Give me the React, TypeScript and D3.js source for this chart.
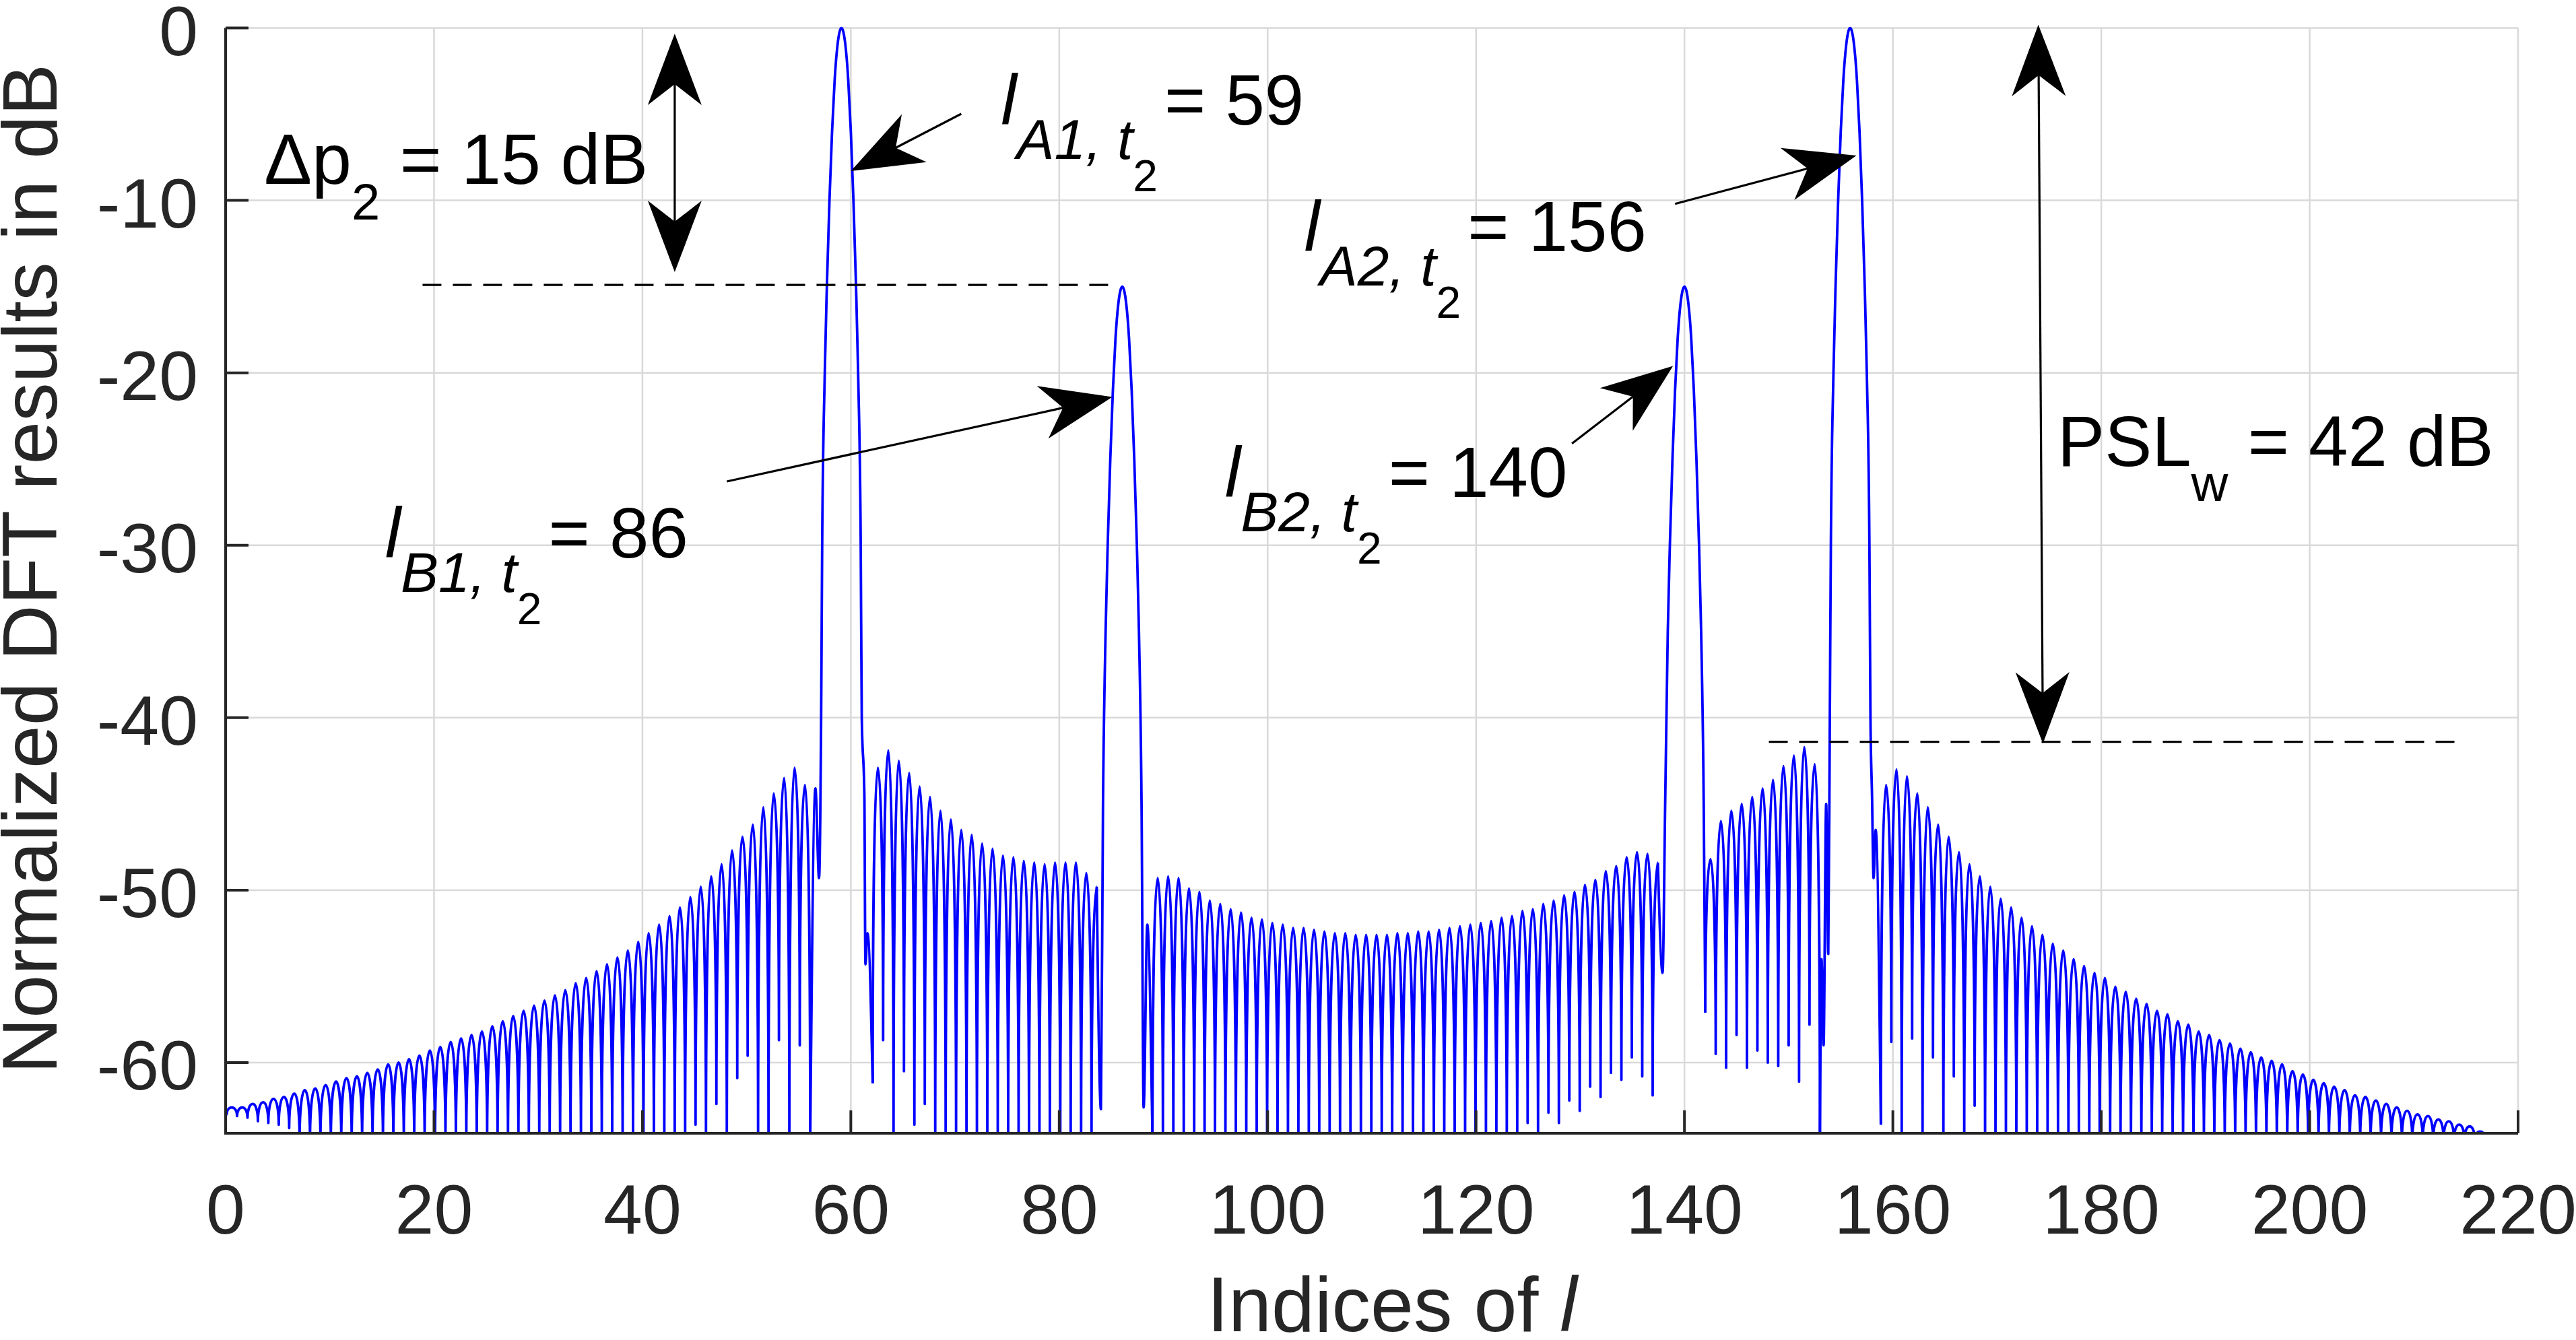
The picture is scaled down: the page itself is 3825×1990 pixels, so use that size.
import { useEffect, useRef } from "react"
import * as d3 from "d3"

// ---------- values ----------
const xTicks = [0, 20, 40, 60, 80, 100, 120, 140, 160, 180, 200, 220]
const yTicks = [0, -10, -20, -30, -40, -50, -60]

// main lobes (index of peak, level in dB)
const mainLobeIdx = [59.1, 86.05, 140.0, 155.9]
const mainLobeDb = [0, -15, -15, 0]
// main lobe shape: distance from the peak and level below the peak
const lobeOffsets = [1.95, 1.85, 1.6, 1.4, 1.15, 0.9, 0.65, 0.38]
const lobeDrops = [-40, -30, -20, -15, -10, -6, -3, -1]

// side lobe runs: nulls at start + k, peaks at start + k + 0.5
const run1Nulls = [
  -63.0, -63.1, -63.2, -63.4, -63.5, -63.6, -63.8,
  -80, -80, -80, -80, -80, -80, -80, -80, -80, -80, -80, -80, -80, -80, -80, -80, -80, -80, -80,
  -80, -80, -80, -80, -80, -80, -80, -80, -80, -80, -80, -80, -80, -80, -80, -80, -80, -80, -80,
  -63.6, -80, -62.4, -80, -60.9, -59.6, -80, -80, -58.7, -80, -59.0, -80,
]
const run1Peaks = [
  -62.6, -62.6, -62.4, -62.3, -62.1, -62.0, -61.8, -61.6, -61.5, -61.3,
  -61.1, -60.9, -60.8, -60.6, -60.4, -60.1, -60.0, -59.8, -59.6, -59.3,
  -59.1, -58.8, -58.6, -58.4, -58.2, -57.9, -57.6, -57.3, -57.0, -56.7,
  -56.4, -56.1, -55.8, -55.4, -55.1, -54.7, -54.3, -53.9, -53.5, -53.0,
  -52.5, -52.0, -51.5, -51.0, -50.4, -49.8, -49.2, -48.5, -47.7, -46.9,
  -46.2, -45.2, -44.4, -43.5, -42.9, -43.9,
]
const run2Nulls = [
  -61.2, -58.7, -80, -60.5, -63.6, -62.4,
  -80, -80, -80, -80, -80, -80, -80, -80, -80, -80, -80, -80, -80, -80, -80, -80,
]
const run2Peaks = [
  -42.9, -41.9, -42.5, -43.2, -44.0, -44.6, -45.4, -45.9, -46.5, -46.8, -47.3,
  -47.6, -48.0, -48.1, -48.3, -48.4, -48.5, -48.4, -48.4, -48.4, -49.0, -49.8,
]
const run3Nulls = [
  -80, -80, -80, -80, -80, -80, -80, -80, -80, -80, -80, -80, -80, -80, -80, -80, -80, -80,
  -80, -80, -80, -80, -80, -80, -80, -80, -80, -80, -80, -80, -80, -80, -80, -80, -80, -80,
  -63.5, -80, -62.9, -63.5, -62.2, -62.8, -61.4, -62.0, -60.6, -61.0, -59.7, -60.8, -61.9,
]
const run3Peaks = [
  -49.3, -49.2, -49.3, -49.9, -50.1, -50.6, -50.8, -51.1, -51.3, -51.6, -51.7, -51.9, -52.0, -52.2, -52.2,
  -52.3, -52.4, -52.5, -52.5, -52.6, -52.6, -52.6, -52.6, -52.5, -52.5, -52.4, -52.4, -52.3, -52.2,
  -52.1, -52.0, -51.9, -51.8, -51.6, -51.5, -51.2, -51.1, -50.8, -50.6, -50.3, -50.1, -49.7, -49.4,
  -48.9, -48.6, -48.1, -47.8, -47.9, -48.4,
]
const run4Nulls = [-57.1, -59.5, -60.3, -58.4, -60.3, -59.3, -60.0, -60.2, -59.0, -61.1, -57.8, -80]
const run4Peaks = [-48.2, -46.0, -45.4, -45.0, -44.6, -44.1, -43.6, -42.8, -42.2, -41.7, -42.7]
const run5Nulls = [
  -63.6, -58.8, -80, -58.6, -80, -59.7, -80, -60.8, -80, -62.5,
  -80, -80, -80, -80, -80, -80, -80, -80, -80, -80, -80, -80, -80, -80, -80, -80, -80, -80,
  -80, -80, -80, -80, -80, -80, -80, -80, -80, -80, -80, -80, -80, -80, -80, -80, -80, -80,
  -80, -80, -80, -80, -80, -80, -80, -80, -80, -80, -80, -80, -80, -80, -80, -80,
]
const run5Peaks = [
  -43.9, -43.0, -43.4, -44.4, -45.2, -46.2, -46.9, -47.8, -48.5, -49.2,
  -49.8, -50.5, -51.0, -51.6, -52.1, -52.6, -53.1, -53.5, -54.0, -54.4,
  -54.8, -55.1, -55.6, -55.9, -56.3, -56.6, -57.0, -57.2, -57.6, -57.8,
  -58.2, -58.4, -58.7, -58.9, -59.2, -59.4, -59.7, -59.9, -60.1,
  -60.5, -60.7, -61.0, -61.2, -61.4, -61.6, -61.9, -62.0, -62.2, -62.4,
  -62.6, -62.8, -63.0, -63.1, -63.3, -63.4, -63.6, -63.7, -64.0,
  -64.3, -64.6, -64.9,
]

// irregular bits next to the main lobes: [index, dB]
const a1Left = [[56.6, -44.1], [56.95, -49.3]]
const a1Right = [[61.3, -44.5], [61.4, -54.3], [61.6, -52.5]]
const b1Left = [[84.0, -62.7]]
const b1Right = [[88.1, -62.6], [88.45, -52.0]]
const b2Left = [[137.9, -54.8]]
const b2Right: number[][] = []
const a2Left = [[153.15, -54.0], [153.35, -59.0], [153.6, -45.0], [153.8, -53.7]]
const a2Right = [[158.0, -44.5], [158.15, -49.3], [158.35, -46.5]]

// annotations, in data units
const dashB = { from: 18.9, to: 85.6, db: -14.9 }
const dashPsl = { from: 148.1, to: 214.8, db: -41.4 }
const arrowA1 = [[70.6, -4.98], [60.0, -8.3]]
const arrowB1 = [[48.1, -26.3], [85.1, -21.4]]
const arrowB2 = [[129.2, -24.1], [138.9, -19.6]]
const arrowA2 = [[139.1, -10.2], [156.5, -7.4]]
const deltaArrow = [[43.1, -0.33], [43.1, -14.16]]
const pslArrow = [[173.96, 0.19], [174.4, -41.5]]

const W = 3825
const H = 1990
const FONT = "'Liberation Sans', Arial, Helvetica, sans-serif"

function runPoints(start: number, nulls: number[], peaks: number[]) {
  const out: number[][] = []
  nulls.forEach((n, k) => {
    out.push([start + k, n])
    if (k < peaks.length) out.push([start + k + 0.5, peaks[k]])
  })
  return out
}

function lobePoints(k: number) {
  const c = mainLobeIdx[k]
  const p = mainLobeDb[k]
  const left: number[][] = []
  lobeOffsets.forEach((o, i) => {
    if (p + lobeDrops[i] >= -45.5) left.push([c - o, p + lobeDrops[i]])
  })
  const right = left.map(([xx, v]) => [2 * c - xx, v]).reverse()
  return [...left, [c, p], ...right]
}

const App = () => {
  const svgRef = useRef<SVGSVGElement>(null)

  useEffect(() => {
    if (!svgRef.current) return
    const svg = d3.select(svgRef.current)
    svg.selectAll("*").remove()

    const x = d3.scaleLinear().domain([0, 220]).range([335, 3739])
    const y = d3.scaleLinear().domain([-64.1, 0]).range([1683, 41.5])
    const floor = -64.5
    const px = (d: number[]) => [x(d[0]), y(Math.max(d[1], floor))]

    svg.append("rect").attr("width", W).attr("height", H).attr("fill", "#fff")

    // grid
    const grid = svg.append("g").attr("stroke", "#d9d9d9").attr("stroke-width", 2.5)
    grid.selectAll("line.v").data(xTicks).join("line").attr("class", "v")
      .attr("x1", (d) => x(d)).attr("x2", (d) => x(d)).attr("y1", y(0)).attr("y2", y(-64.1))
    grid.selectAll("line.h").data(yTicks).join("line").attr("class", "h")
      .attr("x1", x(0)).attr("x2", x(220)).attr("y1", (d) => y(d)).attr("y2", (d) => y(d))

    // curve
    svg.append("clipPath").attr("id", "plotclip").append("rect")
      .attr("x", x(0)).attr("y", y(0) - 2).attr("width", x(220) - x(0)).attr("height", y(-64.1) - y(0) + 2)
    const curve = svg.append("g").attr("clip-path", "url(#plotclip)")
      .attr("fill", "none").attr("stroke", "#0000ff").attr("stroke-width", 3.8).attr("stroke-linejoin", "round")

    const r1 = [[0, -62.9], ...runPoints(0.1, run1Nulls, run1Peaks)]
    const r2 = runPoints(62.1, run2Nulls, run2Peaks)
    const r3 = runPoints(88.95, run3Nulls, run3Peaks)
    const r4 = runPoints(142.0, run4Nulls, run4Peaks)
    const r5 = runPoints(158.85, run5Nulls, run5Peaks)

    // side lobes: sharp nulls, rounded tops
    const runPath = (pts: number[][]) => {
      const p = d3.path()
      pts.map(px).forEach(([cx, cy], i, arr) => {
        if (i === 0) { p.moveTo(cx, cy); return }
        const [x0, y0] = arr[i - 1]
        const dx = cx - x0
        if (y0 > cy) p.bezierCurveTo(x0, y0 + (cy - y0) * 0.5, x0 + 0.35 * dx, cy, cx, cy)
        else p.bezierCurveTo(x0 + 0.65 * dx, y0, cx, cy + (y0 - cy) * 0.5, cx, cy)
      })
      return p.toString()
    }
    ;[r1, r2, r3, r4, r5].forEach((r) => curve.append("path").attr("d", runPath(r)))

    const smooth = d3.line<number[]>().x((d) => px(d)[0]).y((d) => px(d)[1]).curve(d3.curveMonotoneX)
    const pieces = [
      [r1[r1.length - 1], ...a1Left, ...lobePoints(0), ...a1Right, r2[0]],
      [r2[r2.length - 1], ...b1Left, ...lobePoints(1), ...b1Right, r3[0]],
      [r3[r3.length - 1], ...b2Left, ...lobePoints(2), ...b2Right, r4[0]],
      [r4[r4.length - 1], ...a2Left, ...lobePoints(3), ...a2Right, r5[0]],
    ]
    pieces.forEach((pc) => curve.append("path").attr("d", smooth(pc) || ""))

    // dashed guide lines
    const ann = svg.append("g")
    ;[dashB, dashPsl].forEach((d) => {
      ann.append("line").attr("x1", x(d.from)).attr("x2", x(d.to)).attr("y1", y(d.db)).attr("y2", y(d.db))
        .attr("stroke", "#000").attr("stroke-width", 3.2).attr("stroke-dasharray", "28,17")
    })

    // arrows with notched heads
    const HL = 106, HW = 40, NOTCH = 75
    const head = (tx: number, ty: number, ux: number, uy: number) => {
      const bx = tx - ux * HL, by = ty - uy * HL
      const nx = tx - ux * NOTCH, ny = ty - uy * NOTCH
      ann.append("polygon").attr("fill", "#000")
        .attr("points", [[tx, ty], [bx - uy * HW, by + ux * HW], [nx, ny], [bx + uy * HW, by - ux * HW]].map((q) => q.join(",")).join(" "))
      return [nx, ny]
    }
    const arrow = (a: number[][], both: boolean) => {
      const [x1, y1] = [x(a[0][0]), y(a[0][1])]
      const [x2, y2] = [x(a[1][0]), y(a[1][1])]
      const len = Math.hypot(x2 - x1, y2 - y1)
      const ux = (x2 - x1) / len, uy = (y2 - y1) / len
      const end = head(x2, y2, ux, uy)
      const start = both ? head(x1, y1, -ux, -uy) : [x1, y1]
      ann.append("line").attr("x1", start[0]).attr("y1", start[1]).attr("x2", end[0]).attr("y2", end[1])
        .attr("stroke", "#000").attr("stroke-width", 3.2)
    }
    arrow(arrowA1, false)
    arrow(arrowB1, false)
    arrow(arrowB2, false)
    arrow(arrowA2, false)
    arrow(deltaArrow, true)
    arrow(pslArrow, true)

    // annotation texts
    type Part = { t: string; size: number; dy: number; dx?: number; it?: boolean }
    const label = (ix: number, db: number, parts: Part[]) => {
      const t = ann.append("text").attr("x", x(ix)).attr("y", y(db))
        .attr("font-family", FONT).attr("fill", "#000").style("white-space", "pre")
      parts.forEach((p) => {
        t.append("tspan").attr("dy", p.dy).attr("dx", p.dx || 0).attr("font-size", p.size)
          .attr("font-style", p.it ? "italic" : "normal").text(p.t)
      })
    }
    const idxLabel = (ix: number, db: number, sub: string, val: string) =>
      label(ix, db, [
        { t: "l", size: 105, dy: 0, it: true },
        { t: sub, size: 84, dy: 51, it: true },
        { t: "2", size: 66, dy: 48 },
        { t: "= " + val, size: 105, dy: -99, dx: 10 },
      ])
    idxLabel(74.4, -5.6, "A1, t", "59")
    idxLabel(15.3, -30.7, "B1, t", "86")
    idxLabel(103.5, -12.95, "A2, t", "156")
    idxLabel(95.9, -27.2, "B2, t", "140")
    label(3.7, -9.04, [
      { t: "\u0394p", size: 106, dy: 0 },
      { t: "2", size: 76, dy: 53 },
      { t: " = 15 dB", size: 106, dy: -53 },
    ])
    label(175.8, -25.4, [
      { t: "PSL", size: 105, dy: 0 },
      { t: "w", size: 76, dy: 52 },
      { t: " = 42 dB", size: 105, dy: -52 },
    ])

    // axes
    const axis = svg.append("g").attr("stroke", "#262626").attr("stroke-width", 4)
    axis.append("line").attr("x1", x(0)).attr("x2", x(0)).attr("y1", y(0)).attr("y2", y(-64.1) + 2)
    axis.append("line").attr("x1", x(0) - 2).attr("x2", x(220)).attr("y1", y(-64.1)).attr("y2", y(-64.1))
    axis.selectAll("line.yt").data(yTicks).join("line").attr("class", "yt")
      .attr("x1", x(0)).attr("x2", x(0) + 34).attr("y1", (d) => y(d)).attr("y2", (d) => y(d))
    axis.selectAll("line.xt").data(xTicks).join("line").attr("class", "xt")
      .attr("x1", (d) => x(d)).attr("x2", (d) => x(d)).attr("y1", y(-64.1)).attr("y2", y(-64.1) - 34)

    const tl = svg.append("g").attr("font-family", FONT).attr("font-size", 104).attr("fill", "#262626")
    tl.selectAll("text.yl").data(yTicks).join("text").attr("class", "yl")
      .attr("x", 294).attr("y", (d) => y(d) + 40).attr("text-anchor", "end").text((d) => String(d))
    tl.selectAll("text.xl").data(xTicks).join("text").attr("class", "xl")
      .attr("x", (d) => x(d)).attr("y", 1832).attr("text-anchor", "middle").text((d) => String(d))

    const xl = svg.append("text").attr("x", 2067).attr("y", 1977).attr("text-anchor", "middle")
      .attr("font-family", FONT).attr("font-size", 115).attr("fill", "#262626").style("white-space", "pre")
    xl.append("tspan").text("Indices of ")
    xl.append("tspan").attr("font-style", "italic").text("l")

    svg.append("text").attr("transform", "translate(84,845) rotate(-90)").attr("text-anchor", "middle")
      .attr("font-family", FONT).attr("font-size", 115).attr("fill", "#262626")
      .text("Normalized DFT results in dB")
  }, [])

  return <svg ref={svgRef} width={W} height={H} style={{ position: "absolute", left: 0, top: 0 }} />
}

export default App
